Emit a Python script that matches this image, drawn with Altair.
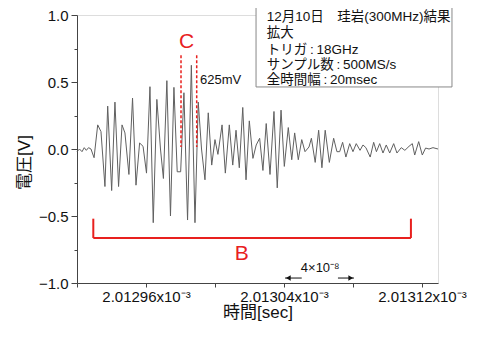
import altair as alt
import pandas as pd

# time axis: offset from 2.01292e-3 s, in units of 1e-8 s
time_offsets = [0.0, 0.145, 0.29, 0.42, 0.54, 0.67, 0.81, 0.99, 1.20, 1.39, 1.62, 1.78, 2.01, 2.20,
                2.41, 2.61, 2.78, 3.01, 3.22, 3.42, 3.63, 3.83, 4.03, 4.23, 4.42, 4.63, 4.84, 5.01,
                5.21, 5.42, 5.62, 5.81, 6.01, 6.20, 6.41, 6.63, 6.84, 7.03, 7.22, 7.42, 7.61, 7.81,
                8.00, 8.17, 8.41, 8.60, 8.83, 9.03, 9.22, 9.41, 9.61, 9.80, 9.99, 10.20, 10.39,
                10.59, 10.78, 10.97, 11.19, 11.42, 11.61, 11.83, 12.02, 12.25, 12.45, 12.62, 12.83,
                13.03, 13.22, 13.45, 13.59, 13.81, 14.01, 14.20, 14.39, 14.63, 14.88, 15.07, 15.23,
                15.40, 15.59, 15.81, 16.00, 16.19, 16.41, 16.58, 16.75, 17.00, 17.20, 17.36, 17.55,
                17.74, 17.93, 18.13, 18.36, 18.55, 18.80, 19.01, 19.25, 19.44, 19.58, 19.81, 20.02,
                20.21, 20.41, 20.64, 20.93]
voltages = [-0.02, 0.0, -0.02, 0.01, -0.01, 0.01, 0.0, -0.065, 0.18, 0.13, -0.28, 0.32, -0.31, 0.35,
            -0.28, 0.18, 0.12, -0.19, 0.38, -0.27, 0.045, 0.02, -0.18, 0.465, -0.55, 0.37, 0.0, -0.22,
            0.51, -0.5, 0.46, -0.17, -0.17, 0.42, -0.53, 0.625, -0.55, 0.35, 0.0, -0.23, 0.27, -0.12,
            0.07, -0.04, 0.18, -0.18, 0.18, -0.12, 0.14, -0.14, 0.31, -0.23, 0.21, -0.07, 0.03,
            0.08, -0.16, 0.19, -0.19, 0.28, -0.29, 0.29, -0.13, 0.16, -0.08, 0.12, -0.08,
            0.07, -0.02, 0.015, 0.08, -0.1, 0.14, -0.14, 0.14, -0.1, 0.08, -0.02, -0.02,
            0.05, -0.06, 0.04, -0.02, 0.04, -0.01, 0.03, 0.01, -0.06, 0.05, -0.02, 0.04,
            -0.03, 0.03, -0.03, 0.04, -0.03, 0.01, -0.01, 0.02, 0.04, -0.045, 0.055, -0.045,
            0.007, 0.0, 0.01, 0.0]

x_tick_values = [0, 4, 8, 12, 16, 20]
x_tick_labels = {4: "2.01296x10⁻³", 12: "2.01304x10⁻³", 20: "2.01312x10⁻³"}
y_tick_values = [-1.0, -0.75, -0.5, -0.25, 0.0, 0.25, 0.5, 0.75, 1.0]

info_lines = ["12月10日　珪岩(300MHz)結果", "拡大", "トリガ\u2009:\u200918GHz",
              "サンプル数\u2009:\u2009500MS/s", "全時間幅\u2009:\u200920msec"]
info_line_v = [0.987, 0.863, 0.739, 0.627, 0.515]
info_box = {"t": [10.38], "t2": [21.74], "v": [1.075], "v2": [0.463]}

# red annotations (B bracket, C dashed markers)
bracket = {"t": [0.945, 0.945, 19.36], "t2": [19.36, 0.945, 19.36],
           "v": [-0.664, -0.52, -0.52], "v2": [-0.664, -0.664, -0.664]}
c_lines = {"t": [6.03, 6.94], "t2": [6.03, 6.94], "v": [0.70, 0.70], "v2": [0.015, 0.015]}
red_labels = {"t": [9.55, 6.36], "v": [-0.78, 0.80], "label": ["B", "C"]}
peak_label = {"t": [7.13], "v": [0.515], "label": ["625mV"]}
span_label = {"t": [14.1], "v": [-0.885], "label": ["4×10⁻⁸"]}
span_arrows = {"t": [12.06, 15.13], "t2": [13.03, 16.06], "v": [-0.963, -0.963], "v2": [-0.963, -0.963]}
arrow_heads = {"t": [12.25, 15.87], "v": [-0.963, -0.963], "shape": ["triangle-left", "triangle-right"]}

FONT = "Liberation Sans, Noto Sans CJK JP, sans-serif"
RED = "#e8201e"

label_expr = " : ".join(
    [f"datum.value == {k} ? '{v}'" for k, v in x_tick_labels.items()]) + " : ''"

x_enc = alt.X("t:Q", scale=alt.Scale(domain=[0, 20.93], nice=False, zero=False),
              axis=alt.Axis(values=x_tick_values, labelExpr=label_expr, title="時間[sec]",
                            grid=False, tickSize=4, labelPadding=2,
                            titleY=21, titleBaseline="top",
                            labelFontSize=15, titleFontSize=17, labelFont=FONT, titleFont=FONT,
                            titleFontWeight="normal", labelColor="#111", titleColor="#111",
                            domainColor="#444", tickColor="#444", labelFlush=False))
y_enc = alt.Y("v:Q", scale=alt.Scale(domain=[-1, 1], nice=False),
              axis=alt.Axis(values=y_tick_values,
                            labelExpr="abs(datum.value * 4) % 2 == 1 ? '' : format(datum.value, '.1f')",
                            tickSize={"condition": {"test": "abs(datum.value * 4) % 2 == 1", "value": 3}, "value": 6},
                            title="電圧[V]", grid=False, labelPadding=3,
                            titleX=-44, titleY=147, titleBaseline="bottom", titleAlign="center",
                            labelFontSize=15, titleFontSize=17, labelFont=FONT, titleFont=FONT,
                            titleFontWeight="normal", labelColor="#111", titleColor="#111",
                            domainColor="#444", tickColor="#444", labelFlush=False))

wave = alt.Chart(pd.DataFrame({"t": time_offsets, "v": voltages})).mark_line(
    color="#606060", strokeWidth=1).encode(x=x_enc, y=y_enc)

box = alt.Chart(pd.DataFrame(info_box)).mark_rect(
    fill="white", stroke="#888", strokeWidth=1).encode(x=x_enc, x2="t2", y=y_enc, y2="v2")
info = alt.Chart(pd.DataFrame({"t": [11.0] * len(info_lines), "v": info_line_v, "label": info_lines})).mark_text(
    align="left", baseline="middle", font=FONT, fontSize=13.5, color="#111").encode(x=x_enc, y=y_enc, text="label")

bracket_l = alt.Chart(pd.DataFrame(bracket)).mark_rule(color=RED, strokeWidth=2).encode(
    x=x_enc, x2="t2", y=y_enc, y2="v2")
c_l = alt.Chart(pd.DataFrame(c_lines)).mark_rule(color=RED, strokeWidth=1.5, strokeDash=[3, 2]).encode(
    x=x_enc, x2="t2", y=y_enc, y2="v2")
red_t = alt.Chart(pd.DataFrame(red_labels)).mark_text(
    font=FONT, fontSize=21, color=RED, baseline="middle").encode(x=x_enc, y=y_enc, text="label")
peak_t = alt.Chart(pd.DataFrame(peak_label)).mark_text(
    font=FONT, fontSize=13, color="#111", align="left", baseline="middle").encode(x=x_enc, y=y_enc, text="label")
span_t = alt.Chart(pd.DataFrame(span_label)).mark_text(
    font=FONT, fontSize=13, color="#111", baseline="middle").encode(x=x_enc, y=y_enc, text="label")
arrows = alt.Chart(pd.DataFrame(span_arrows)).mark_rule(color="#111", strokeWidth=1).encode(
    x=x_enc, x2="t2", y=y_enc, y2="v2")
heads = alt.Chart(pd.DataFrame(arrow_heads)).mark_point(
    filled=True, color="#111", size=30, opacity=1).encode(
    x=x_enc, y=y_enc, shape=alt.Shape("shape:N", scale=None))

chart = alt.layer(wave, box, info, bracket_l, c_l, red_t, peak_t, span_t, arrows, heads).properties(
    width=361, height=268,
    autosize=alt.AutoSizeParams(type="none"),
    padding={"left": 69, "top": 7, "right": 36, "bottom": 52},
).configure_view(stroke=None).configure(background="white")

chart.save("out.html", embed_options={"renderer": "svg", "actions": False})
